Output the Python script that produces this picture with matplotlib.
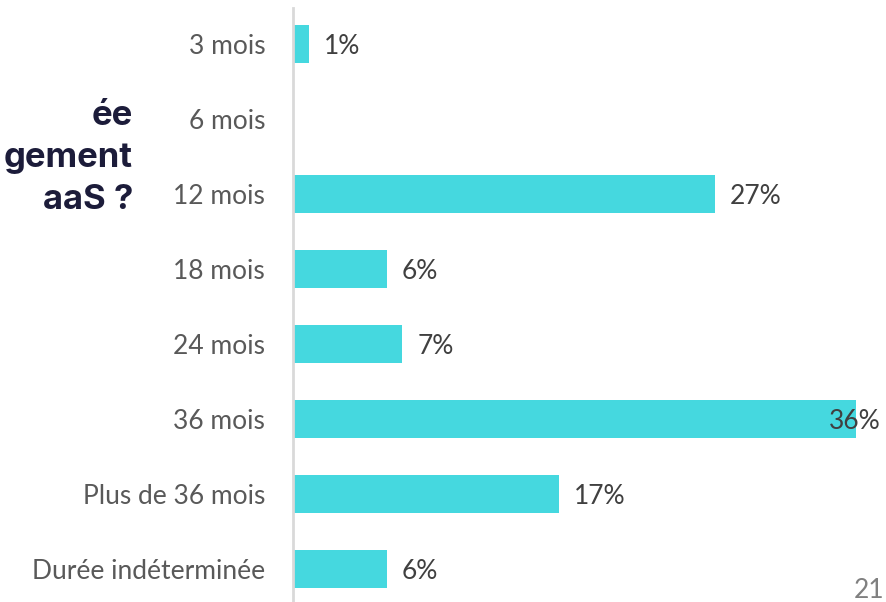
import matplotlib
matplotlib.use("Agg")
import matplotlib.pyplot as plt

# data
categories = ["3 mois", "6 mois", "12 mois", "18 mois", "24 mois",
              "36 mois", "Plus de 36 mois", "Durée indéterminée"]
values = [1, 0, 27, 6, 7, 36, 17, 6]
labels = ["1%", "", "27%", "6%", "7%", "36%", "17%", "6%"]
title_lines = ["ée", "gement", "aaS ?"]

plt.rcParams['font.family'] = ['Lato', 'DejaVu Sans']

fig = plt.figure(figsize=(8.87, 6.02), dpi=100)
ax = fig.add_axes([293/887, 0.0, 594/887, 594/602])

ys = list(range(len(categories)))
ax.barh(ys, values, height=0.51, color="#45d8df", zorder=2)

for y, v, lab in zip(ys, values, labels):
    if not lab:
        continue
    if v >= 35:
        ax.text(v - 0.1, y + 0.03, lab, va="center", ha="center",
                fontsize=19, color="#404040", zorder=3)
    else:
        ax.text(v + 0.95, y + 0.03, lab, va="center", ha="left",
                fontsize=19, color="#404040", zorder=3)

ax.set_xlim(0, 594/15.64)
ax.set_ylim(7.44, -0.48)
ax.set_yticks(ys)
ax.set_yticklabels(categories, fontsize=19, color="#595959")
ax.tick_params(axis="y", length=0, pad=20)
ax.set_xticks([])
for side in ["top", "right", "bottom"]:
    ax.spines[side].set_visible(False)
ax.spines["left"].set_color("#d9d9d9")
ax.spines["left"].set_linewidth(2)

# cropped title on the left
for i, t in enumerate(title_lines):
    fig.text(133/887, 1 - (116 + 42*i)/602, t, ha="right", va="center",
             fontsize=25, fontweight="bold", color="#1c1c3a",
             family=["Inter", "DejaVu Sans"])

fig.text(884/887, 1 - 590/602, "21", ha="right", va="center",
         fontsize=19, color="#808080")

fig.savefig("out.png", dpi=100)
